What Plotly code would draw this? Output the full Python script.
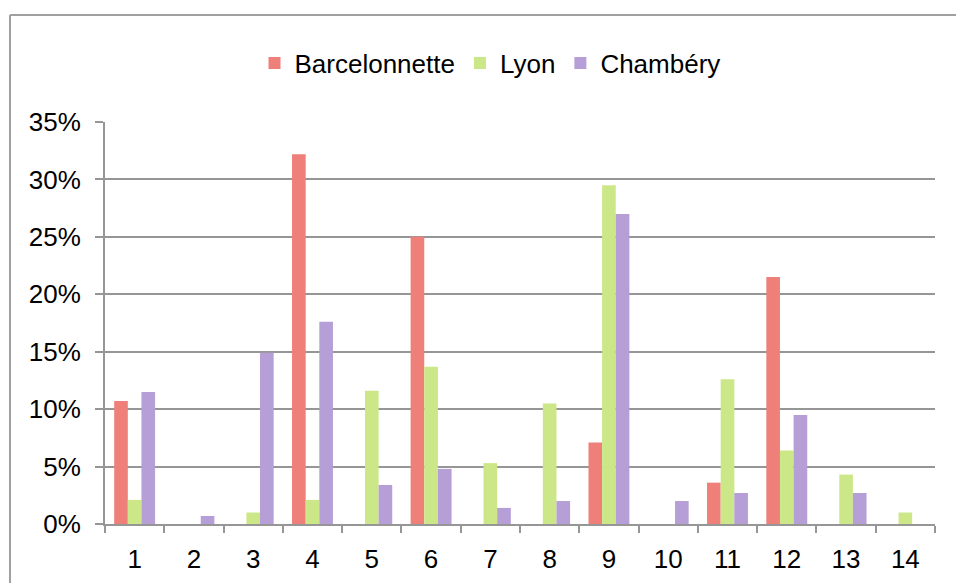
import plotly.graph_objects as go

categories = [str(i) for i in range(1, 15)]
barcelonnette = [0.107, 0, 0, 0.322, 0, 0.250, 0, 0, 0.071, 0, 0.036, 0.215, 0, 0]
lyon = [0.021, 0, 0.010, 0.021, 0.116, 0.137, 0.053, 0.105, 0.295, 0, 0.126, 0.064, 0.043, 0.010]
chambery = [0.115, 0.007, 0.149, 0.176, 0.034, 0.048, 0.014, 0.020, 0.270, 0.020, 0.027, 0.095, 0.027, 0]

series = [
    ("Barcelonnette", barcelonnette, "rgb(238,128,121)"),
    ("Lyon", lyon, "rgb(204,231,136)"),
    ("Chambéry", chambery, "rgb(182,158,214)"),
]

FONT = "Liberation Sans, Arial, Helvetica, sans-serif"
GRID = "rgb(150,150,150)"
FRAME = "rgb(160,160,160)"

fig = go.Figure()
for name, vals, col in series:
    fig.add_trace(go.Bar(x=categories, y=vals, name=name,
                         marker=dict(color=col, line=dict(width=0))))

W, H = 956, 583
L, T = 105, 122
R = W - 935
B = H - 524
pw, ph = W - L - R, H - T - B

def px_x(p):
    return (p - L) / pw

def px_y(p):
    return (H - B - p) / ph

fig.update_layout(
    width=W, height=H,
    margin=dict(l=L, r=R, t=T, b=B, autoexpand=False),
    paper_bgcolor="white", plot_bgcolor="white",
    font=dict(family=FONT, size=26, color="black"),
    barmode="group", bargap=0.31, bargroupgap=0,
    showlegend=True,
    legend=dict(orientation="h", x=px_x(490), xanchor="center",
                y=px_y(63), yanchor="middle", font=dict(size=26),
                itemwidth=30, tracegroupgap=0, bgcolor="rgba(0,0,0,0)"),
    xaxis=dict(type="category", showgrid=False, showline=True, linecolor=GRID,
               linewidth=2, ticks="outside", tickson="boundaries", ticklen=7,
               tickcolor=GRID, tickwidth=2, ticklabelstandoff=11,
               tickfont=dict(size=26), automargin=False),
    yaxis=dict(range=[0, 0.35], dtick=0.05, tickformat=".0%", showgrid=True,
               gridcolor=GRID, gridwidth=2, showline=True, linecolor=GRID,
               linewidth=2, ticks="outside", ticklen=8, tickcolor=GRID,
               tickwidth=2, ticklabelstandoff=9, zeroline=False,
               tickfont=dict(size=26), automargin=False),
    shapes=[
        dict(type="line", xref="paper", yref="paper",
             x0=px_x(10), x1=px_x(1000), y0=px_y(15), y1=px_y(15),
             line=dict(color=FRAME, width=2), layer="below"),
        dict(type="line", xref="paper", yref="paper",
             x0=px_x(10), x1=px_x(10), y0=px_y(15), y1=px_y(620),
             line=dict(color=FRAME, width=2), layer="below"),
    ],
)

page_css = ("document.body.style.margin='0';"
            "document.body.style.overflow='hidden';"
            "document.documentElement.style.overflow='hidden';")

fig.write_html("out.html", post_script=page_css,
               config={"displayModeBar": False})
